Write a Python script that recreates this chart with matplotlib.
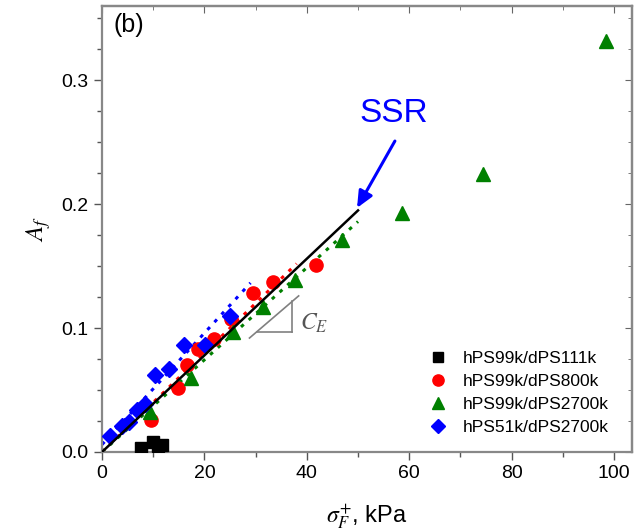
#!/usr/bin/env python3
"""Af vs sigma_F+ for the four hPS/dPS blends, panel (b)."""
import numpy as np
import matplotlib
matplotlib.use("Agg")
import matplotlib.pyplot as plt

plt.rcParams["font.family"] = ["Liberation Sans", "DejaVu Sans"]
plt.rcParams["mathtext.fontset"] = "stix"

# data (sigma_F+ in kPa, Af)
sq_x = [7.6, 10.0, 11.0, 11.8]
sq_y = [0.003, 0.008, 0.005, 0.006]

ci_x = [9.6, 14.8, 16.6, 18.8, 21.9, 25.2, 29.5, 33.3, 41.7]
ci_y = [0.026, 0.052, 0.070, 0.083, 0.091, 0.107, 0.128, 0.137, 0.151]

tri_x = [9.3, 17.3, 25.5, 31.5, 37.7, 46.8, 58.5, 74.5, 98.5]
tri_y = [0.032, 0.060, 0.097, 0.117, 0.139, 0.171, 0.193, 0.224, 0.332]

dia_x = [1.6, 3.9, 5.2, 6.8, 8.4, 10.3, 13.0, 16.0, 20.1, 24.9]
dia_y = [0.013, 0.021, 0.024, 0.034, 0.039, 0.062, 0.067, 0.086, 0.086, 0.110]

labels = ["hPS99k/dPS111k", "hPS99k/dPS800k", "hPS99k/dPS2700k", "hPS51k/dPS2700k"]

# linear fits: (slope, intercept, x_end)
ssr_fit = (0.0039, 0.0, 50.0)
red_fit = (0.0040, 0.0, 38.0)
green_fit = (0.00372, 0.0, 50.0)
blue_fit = (0.0045, 0.006, 29.0)

fig = plt.figure(figsize=(6.42, 5.32), dpi=100)
ax = fig.add_axes([102 / 642, 1 - 452 / 532, 530 / 642, 446 / 532])

def fit_line(fit, **kw):
    k, b, xe = fit
    xs = np.array([0.0, xe])
    ax.plot(xs, k * xs + b, **kw)

fit_line(blue_fit, color="blue", ls=(0, (1.2, 2.2)), lw=2.2, zorder=2)
fit_line(red_fit, color="red", ls=(0, (1.2, 2.2)), lw=2.2, zorder=2)
fit_line(green_fit, color="green", ls=(0, (1.2, 2.2)), lw=2.2, zorder=2)
fit_line(ssr_fit, color="black", ls="-", lw=1.8, zorder=4)

ax.plot(sq_x, sq_y, "s", color="black", ms=8.5, ls="none", label=labels[0], zorder=3)
ax.plot(ci_x, ci_y, "o", color="red", ms=9.5, ls="none", label=labels[1], zorder=3)
ax.plot(tri_x, tri_y, "^", color="green", ms=10, ls="none", label=labels[2], zorder=3)
ax.plot(dia_x, dia_y, "D", color="blue", ms=8, ls="none", label=labels[3], zorder=3)

# slope triangle C_E
ax.plot([28.8, 38.4], [0.092, 0.126], color="gray", lw=1.2)
ax.plot([30.2, 37.2], [0.0965, 0.0965], color="gray", lw=1.2)
ax.plot([37.2, 37.2], [0.0965, 0.122], color="gray", lw=1.2)
ax.text(38.6, 0.104, r"$C_E$", fontsize=17, color="#555555", va="center")

ax.text(57.0, 0.266, "SSR", fontsize=24, color="blue", ha="center", va="baseline")
ax.annotate("", xy=(49.8, 0.197), xytext=(57.2, 0.251),
            arrowprops=dict(arrowstyle="-|>,head_length=1.0,head_width=0.45",
                            color="blue", lw=2.2, shrinkA=0, shrinkB=0))

ax.text(0.021, 0.985, "(b)", transform=ax.transAxes, fontsize=18, va="top")

ax.set_xlim(0, 103.5)
ax.set_ylim(0, 0.36)
ax.set_xticks([0, 20, 40, 60, 80, 100])
ax.set_xticks(np.arange(10, 101, 20), minor=True)
ax.set_yticks([0.0, 0.1, 0.2, 0.3])
yminor = [0.025, 0.05, 0.075, 0.125, 0.15, 0.175, 0.225, 0.25, 0.275, 0.325, 0.35]
ax.set_yticks(yminor, minor=True)
ax.yaxis.set_major_formatter(matplotlib.ticker.FormatStrFormatter("%.1f"))
ax.tick_params(which="major", direction="out", length=6, width=1, labelsize=14, color="#555555")
ax.tick_params(which="minor", direction="out", length=3.5, width=1, color="#555555")

# mirrored ticks on top / right, pointing inward
topx = ax.secondary_xaxis("top")
topx.set_xticks([0, 20, 40, 60, 80, 100])
topx.set_xticks(np.arange(10, 101, 20), minor=True)
topx.tick_params(which="major", direction="in", length=5, labeltop=False, color="#666666")
topx.tick_params(which="minor", direction="in", length=3, color="#666666")
rgty = ax.secondary_yaxis("right")
rgty.set_yticks([0.0, 0.1, 0.2, 0.3])
rgty.set_yticks(yminor, minor=True)
rgty.tick_params(which="major", direction="in", length=5, labelright=False, color="#666666")
rgty.tick_params(which="minor", direction="in", length=3, color="#666666")
for sec in (topx, rgty):
    for s in sec.spines.values():
        s.set_color("#888888")
        s.set_linewidth(1.6)

for s in ax.spines.values():
    s.set_color("#888888")
    s.set_linewidth(1.6)

ax.set_xlabel(r"$\sigma_F^{+}$, kPa", fontsize=17, labelpad=14)
ax.set_ylabel(r"$A_f$", fontsize=18, labelpad=6)

ax.legend(loc="lower right", bbox_to_anchor=(0.985, 0.003), frameon=False,
          fontsize=12.5, handletextpad=0.9, labelspacing=0.45, handlelength=1.0,
          markerscale=0.85)

fig.savefig("out.png", dpi=100)
